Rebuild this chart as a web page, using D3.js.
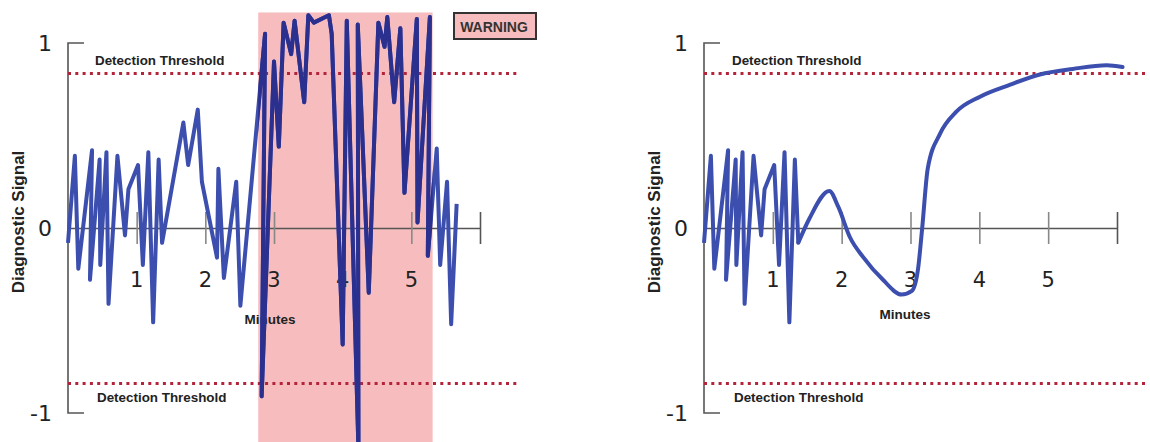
<!DOCTYPE html>
<html>
<head>
<meta charset="utf-8">
<script src="https://cdn.jsdelivr.net/npm/d3@7/dist/d3.min.js"></script>
<style>
  html, body { margin: 0; padding: 0; background: #fff; }
  svg { display: block; }
</style>
</head>
<body>
<svg id="chart" width="1150" height="442"></svg>
<script>
// ---------- DATA ----------
const xTicks = [1, 2, 3, 4, 5, 6];
const xTickLabels = ["1", "2", "3", "4", "5", ""];
const yTicks = [1, 0, -1];
const yTickLabels = ["1", "0", "-1"];
const thresholds = [0.835, -0.84];
const thresholdLabel = "Detection Threshold";
const xTitle = "Minutes";
const yTitle = "Diagnostic Signal";
const warningWindow = [2.77, 5.31];
const warningLabel = "WARNING";

// shared noisy start (minutes, signal)
const noiseStart = [
  [0.00,-0.08],[0.10,0.39],[0.15,-0.22],[0.35,0.42],[0.32,-0.28],[0.46,0.37],
  [0.47,-0.20],[0.56,0.41],[0.59,-0.41],[0.72,0.39],[0.83,-0.04],[0.88,0.21],
  [1.02,0.34],[1.09,-0.20],[1.17,0.41],[1.24,-0.51],[1.32,0.37],[1.37,-0.08]
];
// left panel continuation (erratic signal)
const leftRest = [
  [1.68,0.57],[1.75,0.34],[1.89,0.64],[1.95,0.25],[2.17,-0.16],[2.19,0.32],
  [2.27,-0.27],[2.45,0.25],[2.51,-0.42],[2.87,1.05],[2.82,-0.91],[3.00,0.90],
  [3.07,0.44],[3.14,1.11],[3.25,0.94],[3.30,1.12],[3.44,0.68],[3.50,1.15],
  [3.58,1.11],[3.80,1.15],[3.84,1.05],[4.00,-0.63],[4.06,1.12],[4.23,-1.20],
  [4.22,1.10],[4.38,-0.35],[4.52,1.11],[4.61,0.98],[4.65,1.14],[4.75,0.68],
  [4.84,1.08],[4.90,0.19],[5.08,1.13],[5.09,0.03],[5.27,1.14],[5.24,-0.15],
  [5.37,0.43],[5.42,-0.20],[5.52,0.25],[5.58,-0.52],[5.66,0.13]
];
// right panel continuation (smooth signal)
const rightSmooth = [
  [1.37,-0.08],[1.53,0.05],[1.82,0.20],[1.95,0.115],[2.12,-0.05],[2.31,-0.156],
  [2.60,-0.28],[2.87,-0.36],[3.02,-0.34],[3.11,-0.22],[3.17,0.0],[3.25,0.32],
  [3.43,0.51],[3.67,0.63],[4.01,0.71],[4.45,0.775],[4.88,0.83],[5.36,0.86],
  [5.85,0.88],[6.08,0.87]
];

// ---------- DRAW ----------
const svg = d3.select("#chart");
const lineColor = "#3c4fae";
const darkLine = "#2b2f8e";
const axisColor = "#555";
const dotColor = "#b3243a";
const boldFont = "Liberation Sans, Arial";

function panel(opts) {
  const g = svg.append("g");
  const x = d3.scaleLinear().domain([0, 6]).range([opts.x0, opts.x1]);
  const y = d3.scaleLinear().domain([-1, 1]).range([413, 43]);

  // warning band
  if (opts.warning) {
    const rx0 = x(warningWindow[0]), rx1 = x(warningWindow[1]);
    g.append("rect")
      .attr("x", rx0).attr("y", y(1.165))
      .attr("width", rx1 - rx0).attr("height", 442 - y(1.165))
      .attr("fill", "#f7bdbe");
    g.append("clipPath").attr("id", "warnClip")
      .append("rect")
      .attr("x", rx0).attr("y", 0)
      .attr("width", rx1 - rx0).attr("height", 442);
  }

  // y axis bracket
  g.append("path")
    .attr("d", `M${x(0) + 16},${y(1)}H${x(0)}V${y(-1)}H${x(0) + 16}`)
    .attr("fill", "none").attr("stroke", axisColor).attr("stroke-width", 1.6);

  // x axis
  const xAxis = d3.axisBottom(x).tickValues(xTicks).tickSize(0).tickFormat("");
  const xa = g.append("g").attr("transform", `translate(0,${y(0)})`).call(xAxis);
  xa.select(".domain").attr("stroke", axisColor).attr("stroke-width", 1.6);
  xa.selectAll(".tick").append("line")
    .attr("y1", -16).attr("y2", 16)
    .attr("stroke", (d) => d === 6 ? "#555" : "#888").attr("stroke-width", 1.6);

  // x tick labels
  g.selectAll(".xlab").data(xTicks).enter().append("text")
    .attr("x", (d) => x(d)).attr("y", 287)
    .attr("text-anchor", "middle")
    .attr("font-family", "DejaVu Sans").attr("font-size", 21)
    .attr("fill", "#222")
    .text((d, i) => xTickLabels[i]);

  // y tick labels
  g.selectAll(".ylab").data(yTicks).enter().append("text")
    .attr("x", x(0) - 16).attr("y", (d) => y(d) + 8)
    .attr("text-anchor", "end")
    .attr("font-family", "DejaVu Sans").attr("font-size", 22)
    .attr("fill", "#222")
    .text((d, i) => yTickLabels[i]);

  // thresholds
  thresholds.forEach((t) => {
    g.append("line")
      .attr("x1", x(0)).attr("x2", x(6) + opts.thrExt)
      .attr("y1", y(t)).attr("y2", y(t))
      .attr("stroke", dotColor).attr("stroke-width", 3)
      .attr("stroke-dasharray", "3,4.3");
  });
  g.append("text")
    .attr("x", x(0) + opts.thrLabelDx).attr("y", y(thresholds[0]) - 9)
    .attr("font-family", boldFont).attr("font-weight", "bold")
    .attr("font-size", 13.4).attr("fill", "#222")
    .text(thresholdLabel);
  g.append("text")
    .attr("x", x(0) + opts.thrLabelDx + 2).attr("y", y(thresholds[1]) + 19)
    .attr("font-family", boldFont).attr("font-weight", "bold")
    .attr("font-size", 13.4).attr("fill", "#222")
    .text(thresholdLabel);

  // titles
  g.append("text")
    .attr("x", opts.xTitleX).attr("y", opts.xTitleY)
    .attr("text-anchor", "middle")
    .attr("font-family", boldFont).attr("font-weight", "bold")
    .attr("font-size", 13.5).attr("fill", "#222")
    .text(xTitle);
  g.append("text")
    .attr("transform", `translate(${x(0) - 44},${222}) rotate(-90)`)
    .attr("text-anchor", "middle")
    .attr("font-family", boldFont).attr("font-weight", "bold")
    .attr("font-size", 17).attr("fill", "#222")
    .text(yTitle);

  // signal
  const lin = d3.line().x((d) => x(d[0])).y((d) => y(d[1]));
  const smooth = d3.line().x((d) => x(d[0])).y((d) => y(d[1])).curve(d3.curveMonotoneX);
  const jag = noiseStart.concat(opts.rest || []);
  g.append("path").attr("d", lin(jag))
    .attr("fill", "none").attr("stroke", lineColor).attr("stroke-width", 4)
    .attr("stroke-linejoin", "round");
  if (opts.warning) {
    g.append("path").attr("d", lin(jag))
      .attr("clip-path", "url(#warnClip)")
      .attr("fill", "none").attr("stroke", darkLine).attr("stroke-width", 4)
      .attr("stroke-linejoin", "round");
  }
  if (opts.smooth) {
    g.append("path").attr("d", smooth(opts.smooth))
      .attr("fill", "none").attr("stroke", lineColor).attr("stroke-width", 4)
      .attr("stroke-linecap", "round").attr("stroke-linejoin", "round");
  }

  // warning label
  if (opts.warning) {
    g.append("rect")
      .attr("x", 454).attr("y", 13).attr("width", 82).attr("height", 26)
      .attr("fill", "#f7bdbe").attr("stroke", "#333").attr("stroke-width", 2);
    g.append("text")
      .attr("x", 494).attr("y", 31.5).attr("text-anchor", "middle")
      .attr("font-family", boldFont).attr("font-weight", "bold")
      .attr("font-size", 14).attr("fill", "#333")
      .text(warningLabel);
  }
}

panel({ x0: 68, x1: 480, thrExt: 37, thrLabelDx: 27, xTitleX: 270, xTitleY: 324,
        rest: leftRest, warning: true });
panel({ x0: 704, x1: 1117, thrExt: 30, thrLabelDx: 28, xTitleX: 905, xTitleY: 319,
        smooth: rightSmooth, warning: false });
</script>
</body>
</html>
